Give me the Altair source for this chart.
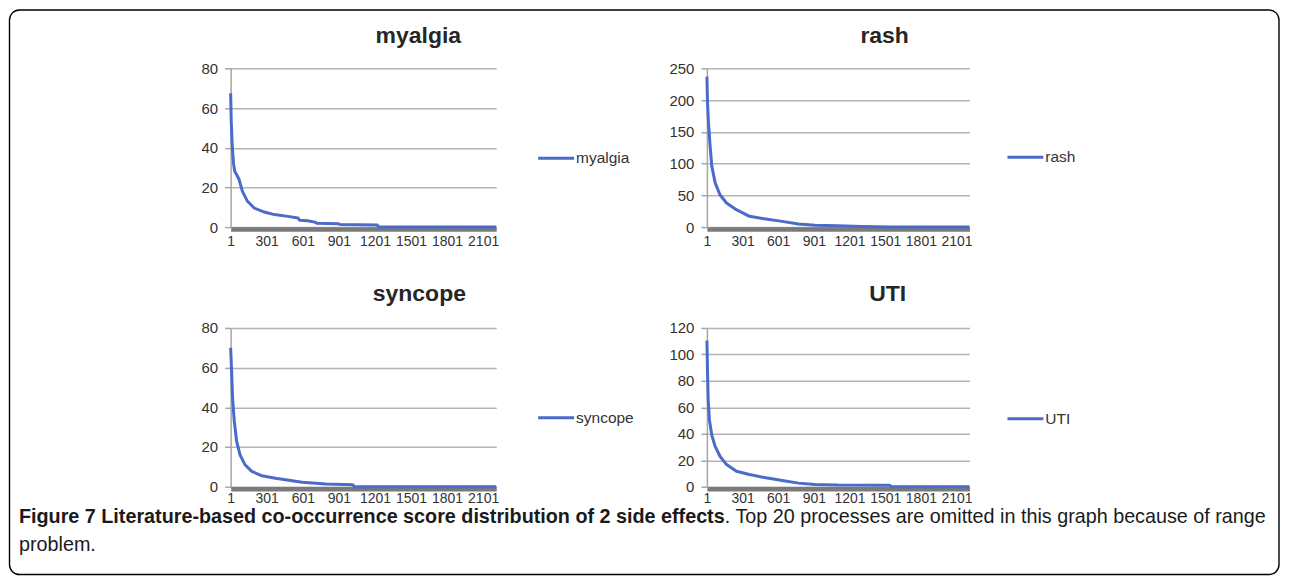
import altair as alt
import pandas as pd

# ---------------- data ----------------
N_LAST = 2210
x_ticks = [1, 301, 601, 901, 1201, 1501, 1801, 2101]

myalgia_rank = [1, 6, 15, 25, 35, 50, 71, 99, 141, 197, 281, 365, 477, 561, 575, 640, 701, 720, 897, 910, 1220, 1232, 2210]
myalgia_score = [67.5, 53, 40, 32, 28, 26.5, 24, 18, 13, 9.6, 7.6, 6.3, 5.4, 4.6, 3.5, 3.2, 2.5, 1.9, 1.7, 1.3, 1.1, 0, 0]
myalgia_yticks = [0, 20, 40, 60, 80]

rash_rank = [1, 6, 14, 28, 42, 70, 111, 166, 249, 359, 497, 634, 772, 910, 1100, 1300, 1550, 2210]
rash_score = [237, 197, 165, 128, 96, 70, 51, 38, 27.5, 17, 12.7, 9, 5, 3, 2, 1, 0, 0]
rash_yticks = [0, 50, 100, 150, 200, 250]

syncope_rank = [1, 9, 17, 31, 51, 79, 121, 177, 261, 373, 485, 597, 793, 1017, 1030, 2210]
syncope_score = [70, 58, 44.7, 33, 22.8, 16, 11, 7.7, 5.5, 4.3, 3.3, 2.2, 1.3, 1, 0, 0]
syncope_yticks = [0, 20, 40, 60, 80]

uti_rank = [1, 6, 12, 22, 42, 70, 111, 166, 249, 359, 497, 634, 772, 910, 1100, 1540, 1555, 2210]
uti_score = [110.5, 88, 65.5, 50.5, 39, 30.5, 23, 16.7, 11.7, 9.2, 6.7, 4.7, 2.7, 1.7, 1.2, 1, 0, 0]
uti_yticks = [0, 20, 40, 60, 80, 100, 120]

caption_bold = "Figure 7 Literature-based co-occurrence score distribution of 2 side effects"
caption_rest = ". Top 20 processes are omitted in this graph because of range"
caption_line2 = "problem."

BLUE = "#4a6bc9"
TXT = "#333333"
FONT = "Liberation Sans"


def panel(name, ranks, scores, yticks, w, h, title_x, title_y, leg_x, leg_y, lab_pad=5, extra=()):
    df = pd.DataFrame({"rank": ranks, "score": scores, "series": name})
    one = pd.DataFrame({"series": [name]})
    x = alt.X(
        "rank:Q",
        scale=alt.Scale(domain=[1, N_LAST], nice=False, zero=False),
        axis=alt.Axis(
            values=x_ticks, title=None, grid=False, ticks=False, tickSize=0,
            domainColor="#7a7a7a", domainWidth=4.5, offset=2, labelPadding=lab_pad,
            labelFontSize=14, labelColor=TXT, labelOverlap=False, labelFlush=False,
            labelFont=FONT, format="d",
        ),
    )
    y = alt.Y(
        "score:Q",
        scale=alt.Scale(domain=[0, yticks[-1]], nice=False),
        axis=alt.Axis(
            values=yticks, title=None, grid=True, gridColor="#b4b4b4", gridWidth=1.5,
            domainColor="#a6a6a6", domainWidth=1.5, tickColor="#a6a6a6", tickWidth=1.5,
            tickSize=6, labelPadding=7, labelFontSize=15, labelColor=TXT, labelFont=FONT,
        ),
    )
    line = alt.Chart(df).mark_line(color=BLUE, strokeWidth=3, strokeJoin="round").encode(x=x, y=y)
    leg_rule = alt.Chart(one).mark_rule(color=BLUE, strokeWidth=3).encode(
        x=alt.value(leg_x), x2=alt.value(leg_x + 36), y=alt.value(leg_y)
    )
    leg_text = alt.Chart(one).mark_text(
        align="left", baseline="middle", fontSize=15.5, color=TXT, font=FONT
    ).encode(x=alt.value(leg_x + 38), y=alt.value(leg_y), text="series:N")
    title = alt.Chart(one).mark_text(
        align="center", baseline="middle", fontSize=23, fontWeight="bold", color="#262626", font=FONT
    ).encode(x=alt.value(title_x), y=alt.value(title_y), text="series:N")
    return alt.layer(line, leg_rule, leg_text, title, *extra).properties(width=w, height=h)


cap = pd.DataFrame({"t": [0]})
border = alt.Chart(cap).mark_rect(
    cornerRadius=10, fill="white", fillOpacity=0, stroke="black", strokeWidth=1.4
).encode(x=alt.value(-221.5), x2=alt.value(1050), y=alt.value(-58.5), y2=alt.value(507))
cap1 = alt.Chart(cap).mark_text(
    align="left", baseline="middle", fontSize=19.8, fontWeight="bold", color="#1a1a1a", font=FONT
).encode(x=alt.value(-212), y=alt.value(449), text=alt.value(caption_bold))
cap2 = alt.Chart(cap).mark_text(
    align="left", baseline="middle", fontSize=19.8, color="#1a1a1a", font=FONT
).encode(x=alt.value(-212 + 707), y=alt.value(449), text=alt.value(caption_rest))
cap3 = alt.Chart(cap).mark_text(
    align="left", baseline="middle", fontSize=19.8, color="#1a1a1a", font=FONT
).encode(x=alt.value(-212), y=alt.value(477), text=alt.value(caption_line2))

p1 = panel("myalgia", myalgia_rank, myalgia_score, myalgia_yticks, 266, 159, 188, -32, 308, 90,
           extra=(border, cap1, cap2, cap3))
p2 = panel("rash", rash_rank, rash_score, rash_yticks, 263, 159, 178, -32, 301, 89)
p3 = panel("syncope", syncope_rank, syncope_score, syncope_yticks, 266, 159, 189, -34, 308, 90, lab_pad=3)
p4 = panel("UTI", uti_rank, uti_score, uti_yticks, 263, 159, 181, -34, 301, 91, lab_pad=3)

chart = (
    alt.concat(p1, p2, p3, p4, columns=2, spacing={"row": 101, "column": 211}, bounds="flush")
    .properties(padding=0)
    .configure(font=FONT)
    .configure_view(stroke="transparent")
)

chart.save("out.html", embed_options={"renderer": "svg", "actions": False})
